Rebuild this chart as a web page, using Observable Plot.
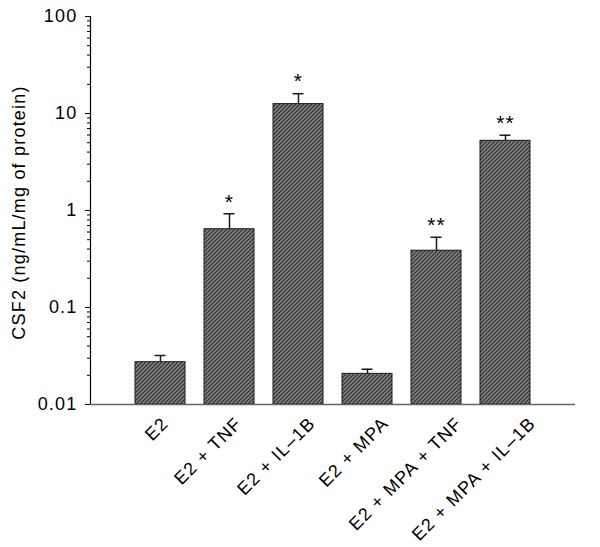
<!DOCTYPE html>
<html>
<head>
<meta charset="utf-8">
<script src="https://cdn.jsdelivr.net/npm/d3@7"></script>
<script src="https://cdn.jsdelivr.net/npm/@observablehq/plot@0.6"></script>
<style>
  html, body { margin: 0; padding: 0; background: white; }
</style>
</head>
<body>
<div id="chart"></div>
<script>
// Data
const categories = ["E2", "E2 + TNF", "E2 + IL–1B", "E2 + MPA", "E2 + MPA + TNF", "E2 + MPA + IL–1B"];
const means = [0.0273, 0.641, 12.5, 0.0207, 0.385, 5.23];
const errTops = [0.032, 0.925, 16.0, 0.0231, 0.53, 5.97];
const significance = ["", "*", "*", "", "**", "**"];
const yTicks = [0.01, 0.1, 1, 10, 100];
const yTickLabels = ["0.01", "0.1", "1", "10", "100"];
const yLabel = "CSF2 (ng/mL/mg of protein)";

const data = categories.map((c, i) => ({cat: c, mean: means[i], err: errTops[i], sig: significance[i]}));
const minorTicks = [];
for (let k = 0; k < yTicks.length - 1; k++) for (let m = 2; m <= 9; m++) minorTicks.push(yTicks[k] * m);

const defs = () => {
  const d = d3.create("svg:defs");
  const p = d.append("pattern").attr("id", "hatch").attr("patternUnits", "userSpaceOnUse")
    .attr("width", 4).attr("height", 4);
  p.append("rect").attr("width", 4).attr("height", 4).attr("fill", "#808080");
  p.append("path").attr("d", "M-1,1 l2,-2 M0,4 l4,-4 M3,5 l2,-2")
    .attr("stroke", "#2e2e2e").attr("stroke-width", 1.2);
  return d.node();
};

const FS = 18;
// x labels sit on a slightly wider spacing than the bars in the reference
const xLabelMarks = categories.map((c, i) =>
  Plot.text([c], {x: d => d, y: () => 0.01, text: d => d, rotate: -45, textAnchor: "end", lineAnchor: "bottom",
    dx: 9 + 4.4 * i, dy: 20, fontSize: FS})
);

const chart = Plot.plot({
  width: 600,
  height: 547,
  marginLeft: 90,
  marginRight: 25,
  marginTop: 16,
  marginBottom: 143,
  style: {fontFamily: "'Liberation Sans', Arial, sans-serif", fontSize: "18px", letterSpacing: "1.2px", background: "white", color: "black"},
  x: {domain: categories, paddingInner: 0.28, paddingOuter: 0.64, axis: null},
  y: {type: "log", domain: [0.01, 100]},
  marks: [
    defs,
    Plot.barY(data, {x: "cat", y1: () => 0.01, y2: "mean", fill: "url(#hatch)", stroke: "#1a1a1a", strokeWidth: 1}),
    Plot.ruleX(data, {x: "cat", y1: "mean", y2: "err", stroke: "#1a1a1a", strokeWidth: 1.5}),
    Plot.tickY(data, {x: "cat", y: "err", insetLeft: 19.5, insetRight: 19.5, stroke: "#1a1a1a", strokeWidth: 1.5}),
    Plot.text(data.filter(d => d.sig), {x: "cat", y: "err", text: "sig", dy: -12, fontSize: 21, letterSpacing: "1px"}),
    Plot.axisY(yTicks, {tickSize: 5, tickPadding: 8, fontSize: FS, tickFormat: (d) => yTickLabels[yTicks.indexOf(d)], label: null}),
    Plot.axisY(minorTicks, {tickSize: 3, tickFormat: () => "", label: null}),
    Plot.frame({anchor: "left", stroke: "black", strokeWidth: 1.2}),
    Plot.ruleY([0.01], {stroke: "#666", strokeWidth: 1.5}),
    ...xLabelMarks,
    Plot.text([yLabel], {frameAnchor: "left", textAnchor: "middle", rotate: -90, dx: -71, dy: 2, fontSize: FS})
  ]
});
document.getElementById("chart").appendChild(chart);
</script>
</body>
</html>
